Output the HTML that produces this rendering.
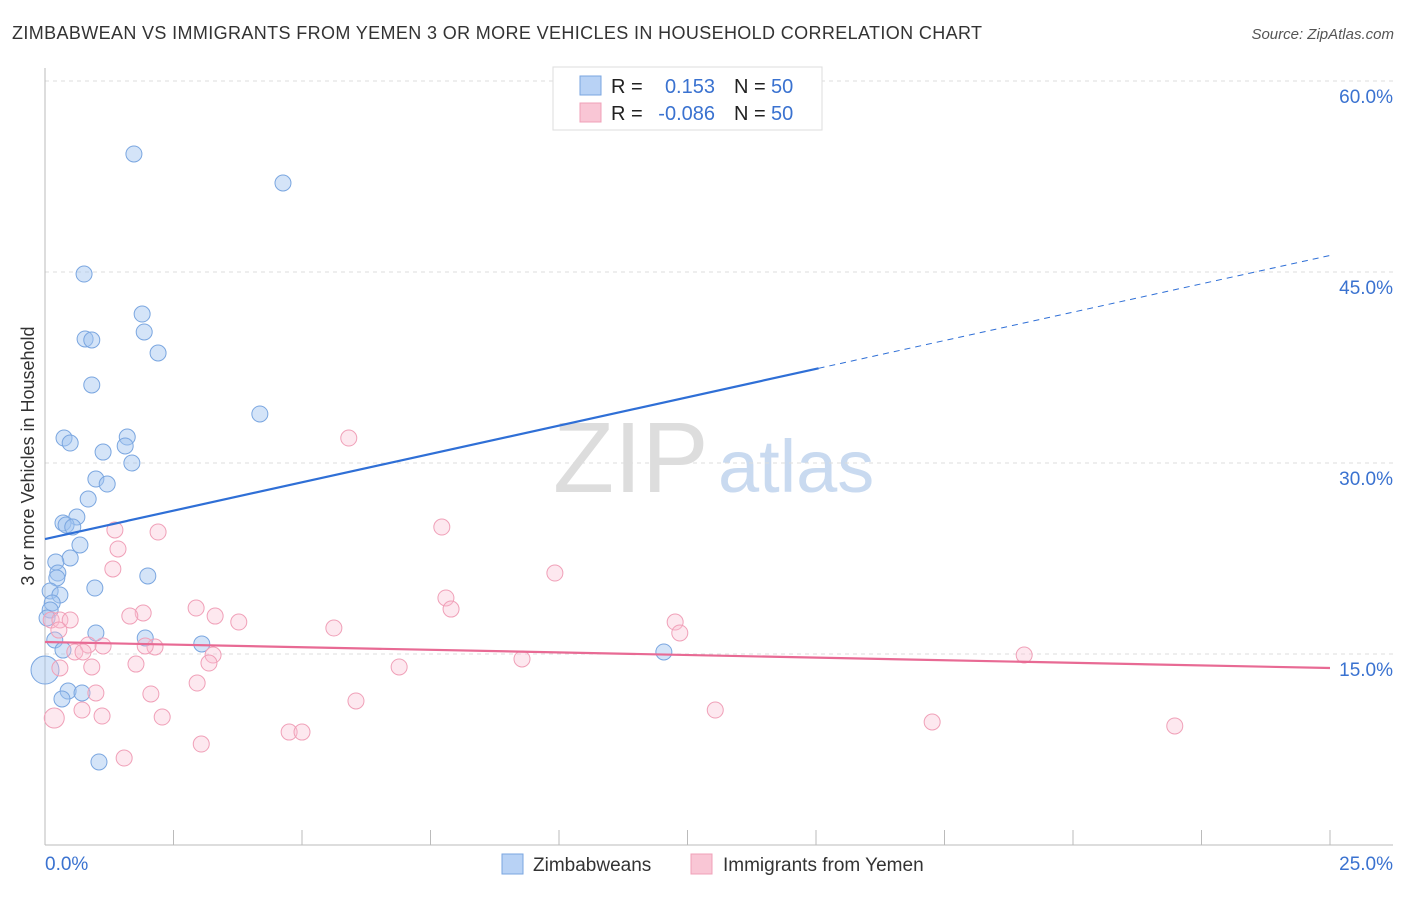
<!DOCTYPE html>
<html><head><meta charset="utf-8"><style>
body{margin:0;background:#fff;font-family:"Liberation Sans",sans-serif}
svg text{font-family:"Liberation Sans",sans-serif}
</style></head><body>
<svg id="chart" width="1406" height="892">
<text x="12" y="39" font-size="18" fill="#333" textLength="970" lengthAdjust="spacing">ZIMBABWEAN VS IMMIGRANTS FROM YEMEN 3 OR MORE VEHICLES IN HOUSEHOLD CORRELATION CHART</text>
<text x="1394" y="39" font-size="15" fill="#555" font-style="italic" text-anchor="end">Source: ZipAtlas.com</text>
<text x="553" y="492" font-size="100" fill="#ddd" font-family="Liberation Serif">ZIP</text>
<text x="718" y="492" font-size="74" fill="#c9daf0">atlas</text>
<text transform="translate(34,456) rotate(-90)" font-size="18" fill="#333" text-anchor="middle">3 or more Vehicles in Household</text>
<g id="grid"></g><g id="pts"></g><g id="lines"></g>
<g>
<rect x="553" y="67" width="269" height="63" fill="#fff" stroke="#ddd"/>
<rect x="580" y="76" width="21" height="19" fill="#b8d2f5" stroke="#7aa6e0"/>
<rect x="580" y="103" width="21" height="19" fill="#f9c6d5" stroke="#f0a0b8"/>
<text x="611" y="93" font-size="20" fill="#222">R =</text><text x="715" y="93" font-size="20" fill="#3a72d0" text-anchor="end">0.153</text>
<text x="734" y="93" font-size="20" fill="#222">N =</text><text x="771" y="93" font-size="20" fill="#3a72d0">50</text>
<text x="611" y="120" font-size="20" fill="#222">R =</text><text x="715" y="120" font-size="20" fill="#3a72d0" text-anchor="end">-0.086</text>
<text x="734" y="120" font-size="20" fill="#222">N =</text><text x="771" y="120" font-size="20" fill="#3a72d0">50</text>
</g>
<g>
<rect x="502" y="854" width="21" height="20" fill="#b8d2f5" stroke="#7aa6e0"/>
<text x="533" y="871" font-size="19" fill="#333">Zimbabweans</text>
<rect x="691" y="854" width="21" height="20" fill="#f9c6d5" stroke="#f0a0b8"/>
<text x="723" y="871" font-size="19" fill="#333">Immigrants from Yemen</text>
</g>
<text x="45" y="870" font-size="19" fill="#3a72d0">0.0%</text>
<text x="1393" y="870" font-size="19" fill="#3a72d0" text-anchor="end">25.0%</text>
</svg>
<script>
const yTicks=[15,30,45,60];
const yTickLabels=["15.0%","30.0%","45.0%","60.0%"];
const xTicks=[0,2.5,5,7.5,10,12.5,15,17.5,20,22.5,25];
const blueX=[1.73,4.63,0.76,1.89,1.93,0.78,0.91,2.20,0.91,4.18,0.37,1.60,0.49,1.13,1.56,1.69,0.99,1.21,0.84,0.62,0.35,0.41,0.54,0.68,0.49,0.21,0.25,0.23,2.00,0.97,0.10,0.29,0.14,0.10,0.04,0.99,0.19,1.95,3.05,12.04,0.35,0.45,0.72,0.33,1.05,0.0];
const blueY=[54.27,51.99,44.84,41.70,40.29,39.74,39.66,38.64,36.13,33.85,31.96,32.04,31.57,30.86,31.34,30.00,28.74,28.35,27.17,25.76,25.29,25.13,24.97,23.56,22.54,22.23,21.36,20.97,21.13,20.18,19.95,19.63,19.01,18.46,17.83,16.65,16.10,16.26,15.79,15.16,15.31,12.09,11.94,11.47,6.52,13.74];
const pinkX=[5.91,7.72,1.36,2.20,1.42,9.92,1.32,7.80,7.90,2.94,1.91,1.65,3.77,12.26,5.62,12.35,0.12,0.29,0.49,3.31,0.27,0.84,1.13,2.14,1.95,0.58,0.74,3.27,3.19,1.77,0.91,6.89,9.28,19.05,2.96,2.06,0.99,6.05,0.72,1.11,2.28,13.04,17.26,21.98,4.75,5.00,3.04,1.54,0.18,0.29];
const pinkY=[31.96,24.97,24.74,24.58,23.25,21.36,21.68,19.40,18.53,18.61,18.22,17.98,17.51,17.51,17.04,16.65,17.67,17.67,17.67,17.98,16.88,15.71,15.63,15.55,15.63,15.16,15.16,14.92,14.29,14.21,13.98,13.98,14.61,14.92,12.72,11.86,11.94,11.31,10.60,10.13,10.05,10.60,9.66,9.35,8.87,8.87,7.93,6.83,9.97,13.90];
const blueTrend=[24.03,46.3]; const pinkTrend=[15.94,13.9];
const X=v=>45+v*51.4, Y=v=>654-(v-15)*12.733;
const NS="http://www.w3.org/2000/svg";
function mk(p,t,a){const e=document.createElementNS(NS,t);for(const k in a)e.setAttribute(k,a[k]);p.appendChild(e);return e;}
const g=document.getElementById('grid');
yTicks.forEach((t,i)=>{const l=mk(g,'line',{x1:45,x2:1393,y1:Y(t),y2:Y(t),stroke:'#ddd','stroke-dasharray':'4,4'});


const tx=mk(g,'text',{x:1393,y:Y(t)+22,'font-size':19,fill:'#3a72d0','text-anchor':'end'});tx.textContent=yTickLabels[i];

});
const ax=mk(g,'line',{x1:45,x2:1393,y1:845,y2:845,stroke:'#bbb'});


const ay=mk(g,'line',{x1:45,x2:45,y1:68,y2:845,stroke:'#bbb'});


xTicks.forEach(t=>{const l=mk(g,'line',{x1:X(t),x2:X(t),y1:830,y2:845,stroke:'#bbb'});

});
const p=document.getElementById('pts');
blueX.forEach((x,i)=>{const r=i==blueX.length-1?14:8;const c=mk(p,'circle',{cx:X(x),cy:Y(blueY[i]),r:r,fill:'rgba(160,195,240,0.45)',stroke:'#7aa6e0','stroke-width':1});

});
pinkX.forEach((x,i)=>{const r=i==48?10:8;const c=mk(p,'circle',{cx:X(x),cy:Y(pinkY[i]),r:r,fill:'rgba(248,190,208,0.35)',stroke:'#f0a0b8','stroke-width':1});

});
const L=document.getElementById('lines');
const bAt=x=>blueTrend[0]+(blueTrend[1]-blueTrend[0])*x/25;
const b1=mk(L,'line',{x1:X(0),y1:Y(bAt(0)),x2:X(15.05),y2:Y(bAt(15.05)),stroke:'#2f6fd6','stroke-width':2.2});


const b2=mk(L,'line',{x1:X(15.05),y1:Y(bAt(15.05)),x2:X(25),y2:Y(bAt(25)),stroke:'#2f6fd6','stroke-width':1,'stroke-dasharray':'6,5'});


const p1=mk(L,'line',{x1:X(0),y1:Y(pinkTrend[0]),x2:X(25),y2:Y(pinkTrend[1]),stroke:'#e86a94','stroke-width':2.2});


</script>
</body></html>
